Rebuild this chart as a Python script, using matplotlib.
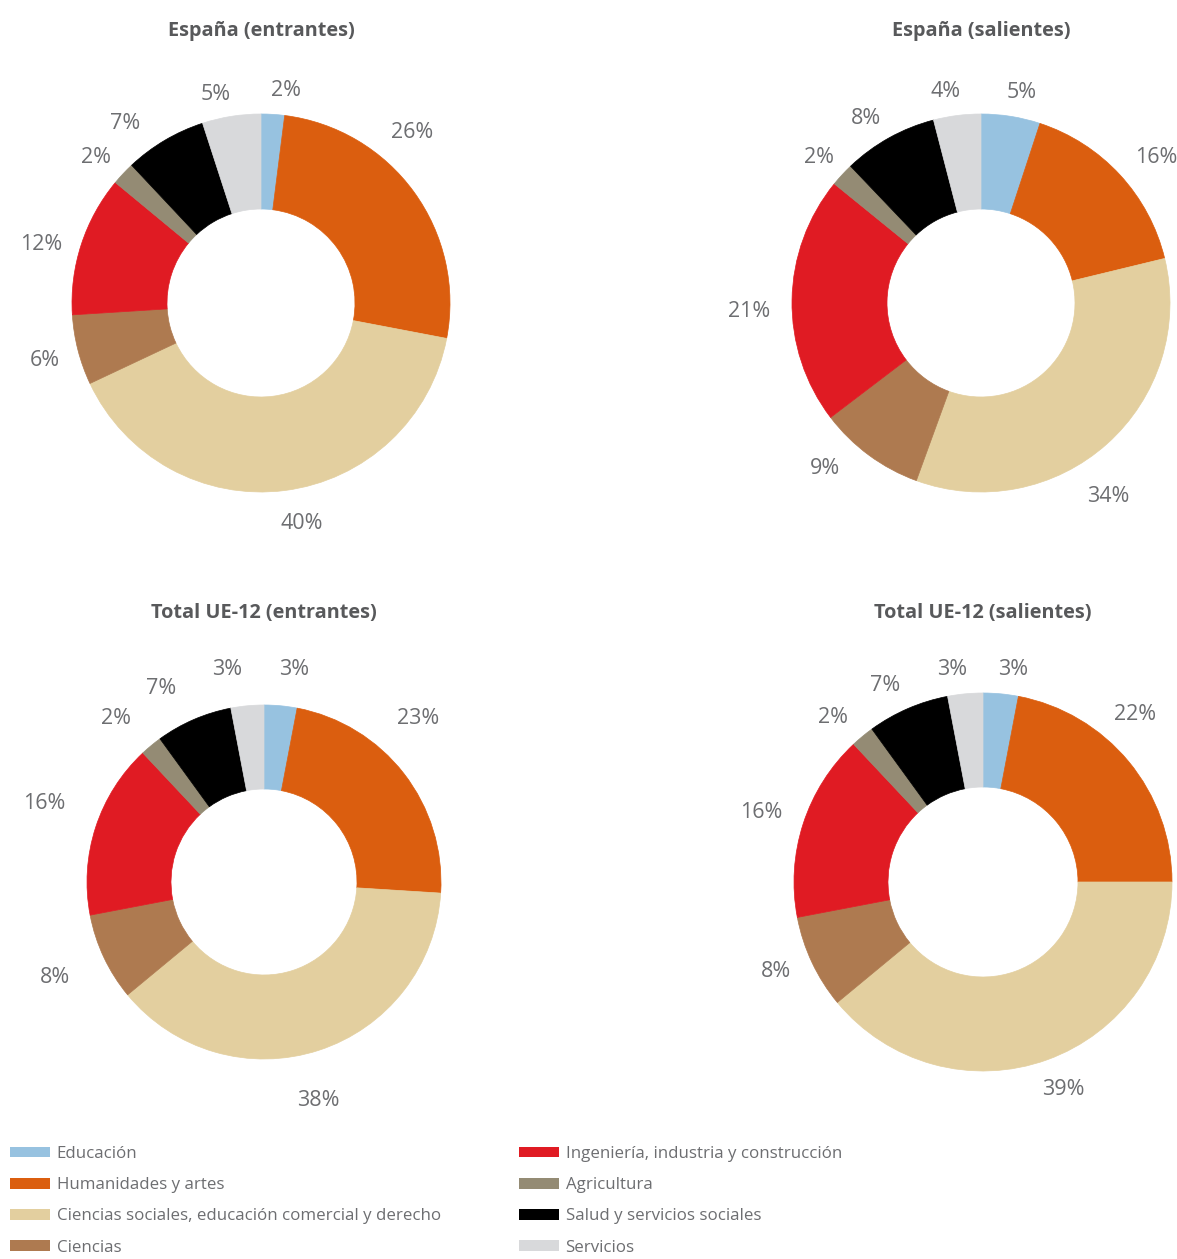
import matplotlib.pyplot as plt
import numpy as np
from matplotlib.patches import Patch

plt.rcParams['font.family'] = ['Open Sans', 'DejaVu Sans']

categorias = ["Educación", "Humanidades y artes",
              "Ciencias sociales, educación comercial y derecho", "Ciencias",
              "Ingeniería, industria y construcción", "Agricultura",
              "Salud y servicios sociales", "Servicios"]
colores = ["#97c2e0", "#db5e0f", "#e3cf9f", "#ae7a50",
           "#e01b23", "#948b74", "#000000", "#d8d9db"]

titulos = ["España (entrantes)", "España (salientes)",
           "Total UE-12 (entrantes)", "Total UE-12 (salientes)"]
esp_entrantes = [2, 26, 40, 6, 12, 2, 7, 5]
esp_salientes = [5, 16, 34, 9, 21, 2, 8, 4]
ue_entrantes = [3, 23, 38, 8, 16, 2, 7, 3]
ue_salientes = [3, 22, 39, 8, 16, 2, 7, 3]
series = [esp_entrantes, esp_salientes, ue_entrantes, ue_salientes]

W, H = 1177, 1259
fig = plt.figure(figsize=(W / 100, H / 100), dpi=100)

# center x, center y (px from top), outer radius, inner radius, title y
layout = [(261, 303, 189, 94, 31),
          (981, 303, 189, 94, 31),
          (264, 882, 177, 93, 613),
          (983, 882, 189, 95, 613)]

# hand placed label nudges in px (dx right, dy down), per chart and slice
nudges = [
    [(11, 14), (-33, -37), (12, -5), (4, 1), (-4, 12), (0, 10), (-20, 16), (-10, 16)],
    [(5, 14), (8, 9), (-24, 24), (-21, -17), (-5, 12), (5, 9), (-5, 14), (-7, 14)],
    [(10, 2), (-16, -32), (-12, 14), (-14, 4), (-15, -12), (-11, 2), (-17, 4), (-17, 2)],
    [(9, 13), (-23, -23), (3, -6), (-2, -7), (-6, 1), (-5, 10), (-8, 12), (-10, 13)],
]

lim = 1.35
txt_gray = "#6d6e71"

for vals, tit, (cx, cy, r, rin, ty), nud in zip(series, titulos, layout, nudges):
    s = 2 * lim * r
    ax = fig.add_axes([(cx - s / 2) / W, (H - cy - s / 2) / H, s / W, s / H])
    wedges, _ = ax.pie(vals, colors=colores, startangle=90, counterclock=False,
                       wedgeprops=dict(width=(r - rin) / r, linewidth=0.5))
    d = 1 + 38 / r
    for w, v, (ndx, ndy) in zip(wedges, vals, nud):
        w.set_edgecolor(w.get_facecolor())
        ang = np.deg2rad((w.theta1 + w.theta2) / 2)
        ax.text(d * np.cos(ang) + ndx / r, d * np.sin(ang) - ndy / r, f"{v}%",
                ha='center', va='center', fontsize=15.5, color=txt_gray)
    ax.set_xlim(-lim, lim)
    ax.set_ylim(-lim, lim)
    ax.set_aspect('equal')
    ax.axis('off')
    fig.text(cx / W, 1 - ty / H, tit, ha='center', va='center', fontsize=14.3,
             fontweight='bold', color="#58595b")

handles = [Patch(facecolor=c, edgecolor='none') for c in colores]
for i, x0 in enumerate([10, 519]):
    leg = fig.legend(handles[i * 4:(i + 1) * 4], categorias[i * 4:(i + 1) * 4],
                     loc='upper left', bbox_to_anchor=(x0 / W, 1 - 1146 / H),
                     frameon=False, fontsize=12.2, handlelength=2.35, handleheight=0.6,
                     handletextpad=0.4, labelspacing=0.9, borderpad=0, borderaxespad=0)
    for t in leg.get_texts():
        t.set_color(txt_gray)

fig.savefig("out.png", dpi=100)
